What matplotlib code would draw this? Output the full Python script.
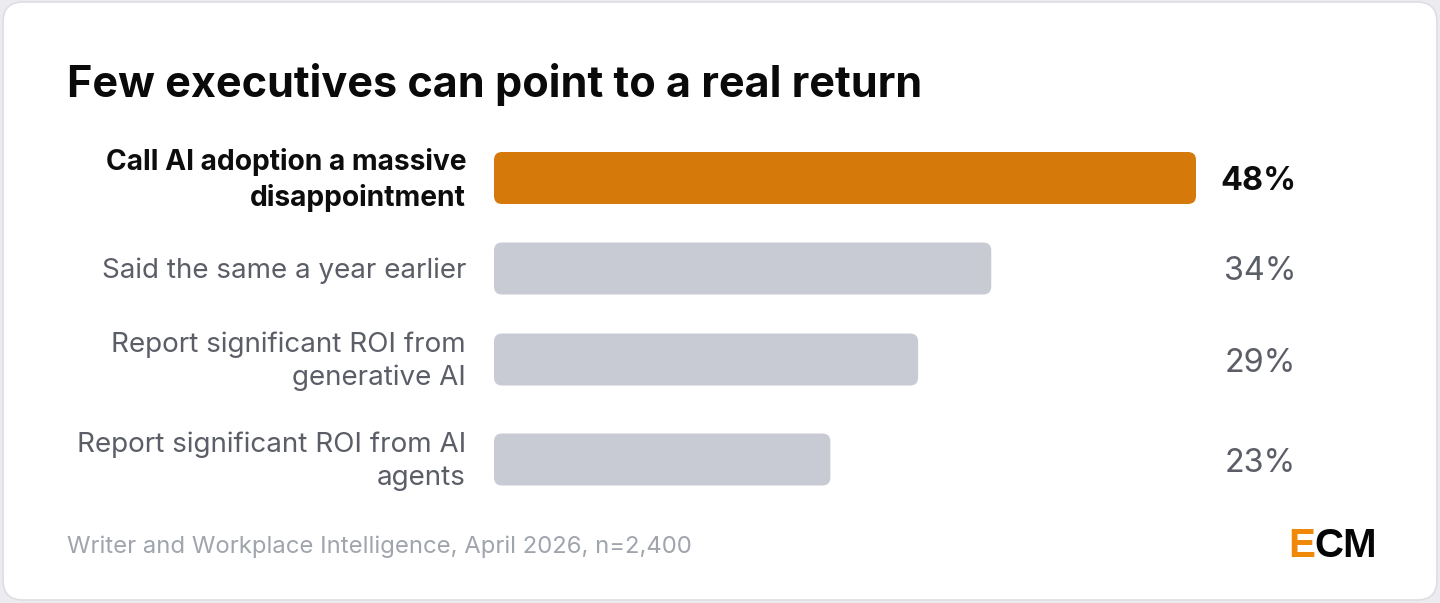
import matplotlib
matplotlib.use("Agg")
import matplotlib.pyplot as plt
from matplotlib.patches import FancyBboxPatch

plt.rcParams['font.family'] = ['Inter', 'DejaVu Sans']

title = "Few executives can point to a real return"
categories = ["Call AI adoption a massive\ndisappointment",
              "Said the same a year earlier",
              "Report significant ROI from\ngenerative AI",
              "Report significant ROI from AI\nagents"]
values = [48, 34, 29, 23]
value_labels = ["48%", "34%", "29%", "23%"]
highlight = [True, False, False, False]
source = "Writer and Workplace Intelligence, April 2026, n=2,400"

W, H = 1440, 603
fig = plt.figure(figsize=(W / 100, H / 100), dpi=100)
fig.patch.set_facecolor("#ececf0")

# pixel-space background axes
bg = fig.add_axes([0, 0, 1, 1])
bg.set_xlim(0, W)
bg.set_ylim(H, 0)
bg.axis("off")
card = FancyBboxPatch((3, 2), W - 6, H - 5, boxstyle="round,pad=0,rounding_size=20",
                      facecolor="white", edgecolor="#dedee3", linewidth=1.2)
bg.add_patch(card)

# bar axes: x in percent, y in pixels
x0_px, x48_px = 494, 1196
ppu = (x48_px - x0_px) / 48.0
ax = fig.add_axes([0, 0, 1, 1])
ax.set_xlim(-x0_px / ppu, (W - x0_px) / ppu)
ax.set_ylim(H, 0)
ax.axis("off")
ax.patch.set_alpha(0)

centers = [178, 268.5, 359.5, 459.5]
bar_h = 52
r = 8
for c, v, lab, vl, hi in zip(centers, values, categories, value_labels, highlight):
    col = "#d5790b" if hi else "#c8cbd3"
    p = FancyBboxPatch((0, c - bar_h / 2), v, bar_h,
                       boxstyle=f"round,pad=0,rounding_size={r / ppu}",
                       mutation_aspect=ppu, facecolor=col, edgecolor="none")
    ax.add_patch(p)
    ax.text(-28 / ppu, c + 2, lab, ha="right", va="center",
            fontsize=20.3 if hi else 20,
            color="#0d0d0d" if hi else "#5b5e67",
            fontweight="bold" if hi else "normal", linespacing=1.33)
    ax.text((1296 - x0_px) / ppu, c + 12, vl, ha="right", va="baseline", fontsize=23.3,
            color="#0d0d0d" if hi else "#5b5e67",
            fontweight="bold" if hi else "normal")

bg.text(67, 84, title, ha="left", va="center", fontsize=31.1, fontweight="bold",
        color="#0a0a0a")
bg.text(67, 547, source, ha="left", va="center", fontsize=17.2, color="#a0a4ad")
t1 = bg.text(1288, 546, "E", ha="left", va="center", fontsize=29, fontweight="bold",
             color="#f0890a", family=["Liberation Sans", "DejaVu Sans"])
bg.annotate("CM", xycoords=t1, xy=(1, 0.5), ha="left", va="center", fontsize=29,
            fontweight="bold", color="#050505", family=["Liberation Sans", "DejaVu Sans"])

fig.savefig("out.png", dpi=100, facecolor=fig.get_facecolor())
